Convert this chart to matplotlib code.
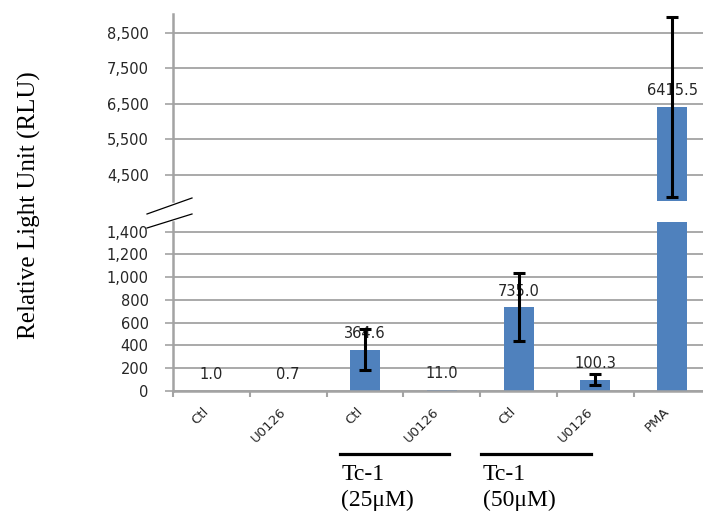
import matplotlib
matplotlib.use("Agg")
import matplotlib.pyplot as plt
from matplotlib.lines import Line2D
from matplotlib.ticker import FuncFormatter
import numpy as np

# luciferase readout per condition
categories = ["Ctl", "U0126", "Ctl", "U0126", "Ctl", "U0126", "PMA"]
values = [1.0, 0.7, 364.6, 11.0, 735.0, 100.3, 6415.5]
errors = [0.0, 0.0, 176.0, 0.0, 298.0, 48.0, 2530.0]
value_labels = ["1.0", "0.7", "364.6", "11.0", "735.0", "100.3", "6415.5"]

lower_ticks = [0, 200, 400, 600, 800, 1000, 1200, 1400]
upper_ticks = [4500, 5500, 6500, 7500, 8500]
lower_lim = (0, 1485)
upper_lim = (3760, 9035)

groups = [("Tc-1\n(25\u03bcM)", 1.67, 3.1), ("Tc-1\n(50\u03bcM)", 3.51, 4.94)]

bar_color = "#4f81bd"
grid_color = "#a3a3a3"
text_color = "#262626"

W, H = 703, 511
fig = plt.figure(figsize=(W / 100, H / 100), dpi=100)

left = 173 / W
width = 7 * 76.8 / W
ax_lo = fig.add_axes([left, (H - 391) / H, width, (391 - 222) / H])
ax_hi = fig.add_axes([left, (H - 201) / H, width, (201 - 14) / H])

x = np.arange(len(categories))
err = np.array(errors)
has_err = err > 0
fmt = FuncFormatter(lambda v, p: "{:,}".format(int(v)))

for ax, ticks, lim in [(ax_lo, lower_ticks, lower_lim), (ax_hi, upper_ticks, upper_lim)]:
    ax.set_axisbelow(True)
    ax.bar(x, values, width=0.39, color=bar_color, zorder=2)
    ax.errorbar(x[has_err], np.array(values)[has_err], yerr=err[has_err], fmt="none",
                ecolor="black", elinewidth=2.2, capsize=4.3, capthick=2.2, zorder=3)
    ax.set_xlim(-0.5, len(categories) - 0.5)
    ax.set_ylim(*lim)
    ax.set_yticks(ticks)
    ax.yaxis.set_major_formatter(fmt)
    ax.yaxis.grid(True, color=grid_color, lw=1.3)
    ax.tick_params(axis="y", direction="out", length=5.5, width=1.2,
                   color=grid_color, pad=12, labelsize=10.5, labelcolor=text_color)
    for s in ["top", "right", "bottom"]:
        ax.spines[s].set_visible(False)
    ax.spines["left"].set_color(grid_color)
    ax.spines["left"].set_linewidth(1.8)
    ax.set_facecolor("none")

# value labels above each bar, in whichever panel holds the bar top
for xi, v, lab in zip(x, values, value_labels):
    ax = ax_hi if v > upper_lim[0] else ax_lo
    ax.annotate(lab, (xi, v), xytext=(0, 11.5), textcoords="offset points",
                ha="center", va="center", fontsize=10.5, color=text_color, zorder=1)

ax_hi.set_xticks([])

ax_lo.spines["bottom"].set_visible(True)
ax_lo.spines["bottom"].set_color(grid_color)
ax_lo.spines["bottom"].set_linewidth(1.8)
ax_lo.set_xticks(x)
ax_lo.set_xticklabels(categories, rotation=45, ha="right", fontsize=9.5, color=text_color)
ax_lo.set_xticks(np.arange(len(categories)) - 0.5, minor=True)
ax_lo.tick_params(axis="x", which="major", length=0, pad=10)
ax_lo.tick_params(axis="x", which="minor", direction="out", length=4.5, width=1.5, color=grid_color)

# treatment group brackets under the axis
trans = ax_lo.get_xaxis_transform()
for label, x0, x1 in groups:
    ax_lo.add_line(Line2D([x0, x1], [-0.37, -0.37], transform=trans, color="black",
                          lw=2.3, clip_on=False))
    ax_lo.text(x0 + 0.02, -0.43, label, transform=trans, ha="left", va="top",
               fontsize=17, family="Liberation Serif", color="black", linespacing=1.3)

# axis break marks
for y0, y1 in [(214, 198), (228, 214)]:
    fig.add_artist(Line2D([147 / W, 192 / W], [(H - y0) / H, (H - y1) / H],
                          color="black", lw=0.9))

fig.text(29 / W, (H - 205) / H, "Relative Light Unit (RLU)", rotation=90,
         ha="center", va="center", fontsize=18, family="Liberation Serif", color="black")

fig.savefig("out.png", dpi=100)
